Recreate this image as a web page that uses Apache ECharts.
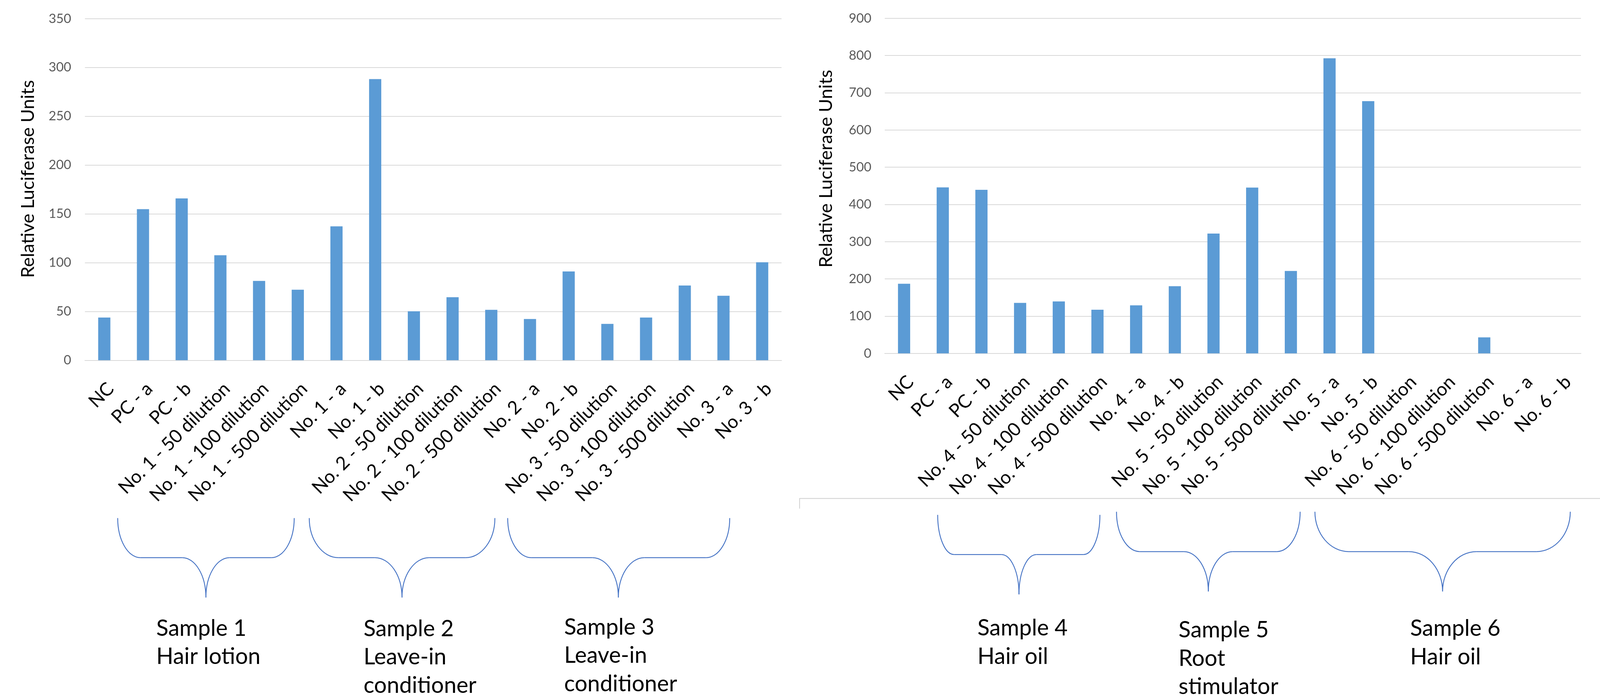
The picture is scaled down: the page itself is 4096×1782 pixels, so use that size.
<!DOCTYPE html>
<html>
<head>
<meta charset="utf-8">
<script src="https://cdn.jsdelivr.net/npm/echarts@6/dist/echarts.min.js"></script>
<style>
html,body{margin:0;padding:0;background:#ffffff;}
#chart{width:4096px;height:1782px;}
</style>
</head>
<body>
<div id="chart"></div>
<script>
// ---------------- DATA ----------------
const categoriesLeft = [
  'NC', 'PC - a', 'PC - b',
  'No. 1 - 50 dilution', 'No. 1 - 100 dilution', 'No. 1 - 500 dilution', 'No. 1 - a', 'No. 1 - b',
  'No. 2 - 50 dilution', 'No. 2 - 100 dilution', 'No. 2 - 500 dilution', 'No. 2 - a', 'No. 2 - b',
  'No. 3 - 50 dilution', 'No. 3 - 100 dilution', 'No. 3 - 500 dilution', 'No. 3 - a', 'No. 3 - b'
];
const valuesLeft = [43.8, 154.8, 165.8, 107.6, 81.3, 72.3, 137.2, 288.1, 50.2, 64.6, 51.7, 42.3, 91.0, 37.3, 43.8, 76.6, 66.1, 100.4];

const categoriesRight = [
  'NC', 'PC - a', 'PC - b',
  'No. 4 - 50 dilution', 'No. 4 - 100 dilution', 'No. 4 - 500 dilution', 'No. 4 - a', 'No. 4 - b',
  'No. 5 - 50 dilution', 'No. 5 - 100 dilution', 'No. 5 - 500 dilution', 'No. 5 - a', 'No. 5 - b',
  'No. 6 - 50 dilution', 'No. 6 - 100 dilution', 'No. 6 - 500 dilution', 'No. 6 - a', 'No. 6 - b'
];
const valuesRight = [187.0, 445.8, 439.2, 135.6, 139.5, 117.3, 129.0, 180.5, 321.7, 445.4, 221.4, 792.6, 677.3, 0, 0, 43.0, 0, 0];

const yAxisLeftTicks = { min: 0, max: 350, interval: 50 };
const yAxisRightTicks = { min: 0, max: 900, interval: 100 };
const yAxisTitle = 'Relative Luciferase Units';

const groupLabels = [
  ['Sample 1', 'Hair lotion'],
  ['Sample 2', 'Leave-in', 'conditioner'],
  ['Sample 3', 'Leave-in', 'conditioner'],
  ['Sample 4', 'Hair oil'],
  ['Sample 5', 'Root', 'stimulator'],
  ['Sample 6', 'Hair oil']
];

// ---------------- LAYOUT (reference pixels, scaled by S) ----------------
const S = 0.975;
const FONT = 'Lato';
const BAR_COLOR = '#5B9BD5';
const GRID_COLOR = '#D9D9D9';
const BRACE_COLOR = '#4472C4';

const gridLayout = [
  { left: 223, top: 49, width: 1829, height: 897 },
  { left: 2323, top: 48, width: 1828, height: 880 }
];
const titleLayout = [ { x: 74, y: 470 }, { x: 2169, y: 443 } ];
// brace geometry: x0 (left top), xc (center point), x1 (right top), r (arm width), r2 (dip width), yTop, yMid, yBot
const braceLayout = [
  { x0: 309, xc: 540.6, x1: 772.5, r: 60, r2: 62, yTop: 1360.5, yMid: 1464.5, yBot: 1569 },
  { x0: 812, xc: 1055.5, x1: 1299.4, r: 77, r2: 71, yTop: 1360.5, yMid: 1464.5, yBot: 1569 },
  { x0: 1333, xc: 1623.6, x1: 1916, r: 62, r2: 68, yTop: 1360.5, yMid: 1464.5, yBot: 1569 },
  { x0: 2462, xc: 2675.5, x1: 2888, r: 43, r2: 46, yTop: 1352, yMid: 1456.2, yBot: 1560.8 },
  { x0: 2931.5, xc: 3172.6, x1: 3413.7, r: 61, r2: 64, yTop: 1343.8, yMid: 1448.5, yBot: 1553.2 },
  { x0: 3452.5, xc: 3787.7, x1: 4123, r: 89, r2: 89, yTop: 1343.8, yMid: 1448.5, yBot: 1553.2 }
];
const groupTextLayout = [
  { x: 412.6, base: 1671.5 },
  { x: 956.9, base: 1672.6 },
  { x: 1483.7, base: 1668.6 },
  { x: 2568.8, base: 1671.4 },
  { x: 3096.8, base: 1676.0 },
  { x: 3705.0, base: 1672.3 }
];
const LINE_GAP = 74.5;

// ---------------- font size fitting ----------------
function fitSize(text, refWidth) {
  const ctx = document.createElement('canvas').getContext('2d');
  ctx.font = 'normal 100px ' + FONT;
  const m = ctx.measureText(text);
  let w = (m.actualBoundingBoxLeft || 0) + (m.actualBoundingBoxRight || 0);
  if (!w) w = m.width;
  return 100 * refWidth * S / w;
}
const tickFs = fitSize('350', 57);
const catFs = fitSize('No. 1 - 100 dilution', 411);
const titleFs = fitSize(yAxisTitle, 514);
const annFs = fitSize('Sample 1', 231);

// ---------------- build option ----------------
const chart = echarts.init(document.getElementById('chart'), null, { renderer: 'canvas' });

const grids = gridLayout.map(g => ({
  left: g.left * S, top: g.top * S, width: g.width * S, height: g.height * S, containLabel: false
}));

const xAxes = [categoriesLeft, categoriesRight].map((cats, i) => ({
  type: 'category',
  gridIndex: i,
  data: cats,
  axisLine: { show: true, lineStyle: { color: GRID_COLOR, width: 2.2 * S } },
  axisTick: { show: false },
  splitLine: { show: false },
  axisLabel: {
    interval: 0, rotate: 45, margin: 50 * S,
    verticalAlign: 'top',
    color: '#000000', fontFamily: FONT, fontSize: catFs
  }
}));

const yAxes = [yAxisLeftTicks, yAxisRightTicks].map((t, i) => ({
  type: 'value',
  gridIndex: i,
  min: t.min, max: t.max, interval: t.interval,
  axisLine: { show: false },
  axisTick: { show: false },
  splitLine: { show: true, lineStyle: { color: GRID_COLOR, width: 2.2 * S } },
  axisLabel: { color: '#595959', fontFamily: FONT, fontSize: tickFs, margin: (i ? 35 : 36) * S }
}));

const series = [valuesLeft, valuesRight].map((vals, i) => ({
  type: 'bar',
  xAxisIndex: i, yAxisIndex: i,
  data: vals,
  barWidth: 32 * S,
  itemStyle: { color: BAR_COLOR },
  emphasis: { disabled: true },
  silent: true
}));

const graphic = [];
// axis titles
titleLayout.forEach(t => {
  graphic.push({
    type: 'text',
    x: t.x * S, y: t.y * S,
    rotation: Math.PI / 2,
    silent: true,
    style: {
      text: yAxisTitle, x: 0, y: 0,
      fill: '#000000', fontFamily: FONT, fontSize: titleFs,
      align: 'center', verticalAlign: 'middle',
      textAlign: 'center', textVerticalAlign: 'middle'
    }
  });
});
// braces
const K = 0.5523;
const braceStyle = { stroke: BRACE_COLOR, lineWidth: 2.3 * S, fill: 'none' };
braceLayout.forEach(b => {
  const h = b.yMid - b.yTop, h2 = b.yBot - b.yMid;
  const pts = (arr) => arr.map(v => v * S);
  const curves = [
    [b.x0, b.yTop, b.x0 + b.r, b.yMid, b.x0, b.yTop + K * h, b.x0 + b.r * (1 - K), b.yMid],
    [b.xc - b.r2, b.yMid, b.xc, b.yBot, b.xc - b.r2 * (1 - K), b.yMid, b.xc, b.yBot - K * h2],
    [b.xc, b.yBot, b.xc + b.r2, b.yMid, b.xc, b.yBot - K * h2, b.xc + b.r2 * (1 - K), b.yMid],
    [b.x1 - b.r, b.yMid, b.x1, b.yTop, b.x1 - b.r * (1 - K), b.yMid, b.x1, b.yTop + K * h]
  ];
  curves.forEach(c => {
    const p = pts(c);
    graphic.push({
      type: 'bezierCurve', silent: true,
      shape: { x1: p[0], y1: p[1], x2: p[2], y2: p[3], cpx1: p[4], cpy1: p[5], cpx2: p[6], cpy2: p[7] },
      style: braceStyle
    });
  });
  const lines = [
    [b.x0 + b.r, b.yMid, b.xc - b.r2, b.yMid],
    [b.xc + b.r2, b.yMid, b.x1 - b.r, b.yMid]
  ];
  lines.forEach(l => {
    const p = pts(l);
    graphic.push({
      type: 'line', silent: true,
      shape: { x1: p[0], y1: p[1], x2: p[2], y2: p[3] },
      style: braceStyle
    });
  });
});
// group labels
groupLabels.forEach((lines, gi) => {
  const L = groupTextLayout[gi];
  lines.forEach((txt, li) => {
    graphic.push({
      type: 'text', silent: true,
      x: L.x * S - 0.04 * annFs,
      y: (L.base + li * LINE_GAP) * S - 0.36 * annFs,
      style: {
        text: txt, x: 0, y: 0,
        fill: '#000000', fontFamily: FONT, fontSize: annFs,
        align: 'left', verticalAlign: 'middle',
        textAlign: 'left', textVerticalAlign: 'middle'
      }
    });
  });
});
// thin border line of the right panel
graphic.push({
  type: 'polyline', silent: true,
  shape: { points: [[2099.5 * S, 1335.6 * S], [2099.5 * S, 1309 * S], [4096, 1309 * S]] },
  style: { stroke: '#D0D0D0', lineWidth: 2 * S, fill: 'none' }
});

chart.setOption({
  animation: false,
  backgroundColor: '#ffffff',
  grid: grids,
  xAxis: xAxes,
  yAxis: yAxes,
  series: series,
  graphic: graphic
});
</script>
</body>
</html>
